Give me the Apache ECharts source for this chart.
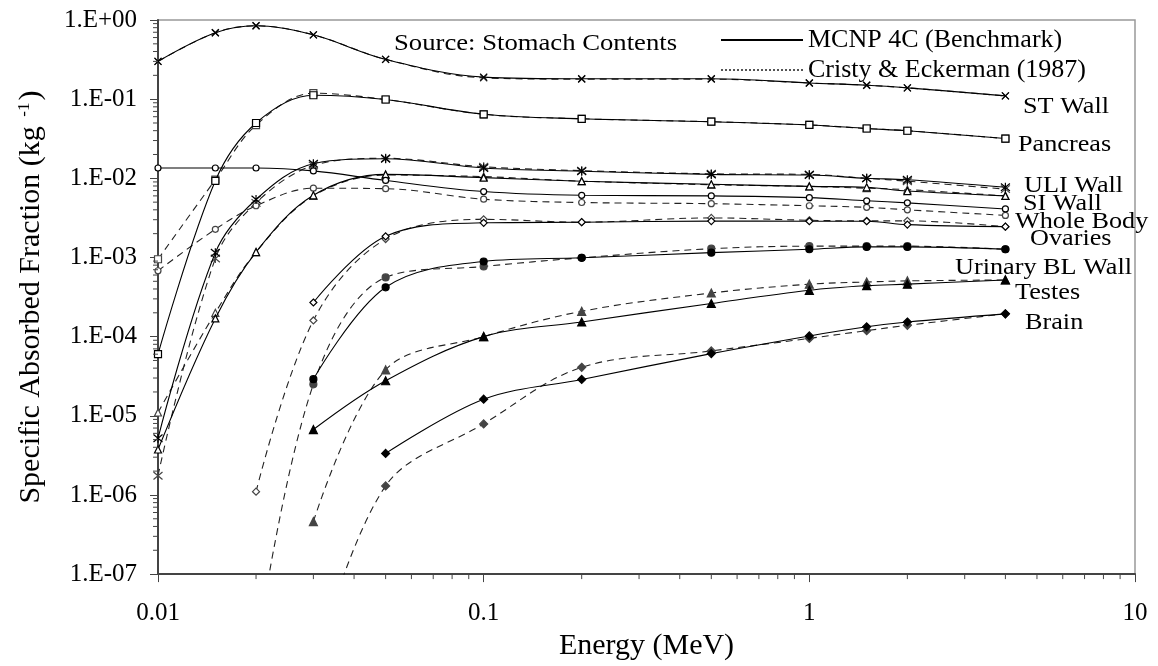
<!DOCTYPE html>
<html>
<head>
<meta charset="utf-8">
<script src="https://cdn.jsdelivr.net/npm/echarts@6/dist/echarts.min.js"></script>
<style>
html, body { margin: 0; padding: 0; background: #fff; }
#main { width: 1158px; height: 666px; }
</style>
</head>
<body>
<div id="main"></div>
<script>
// photon energies (MeV)
var energies = [0.01, 0.015, 0.02, 0.03, 0.05, 0.1, 0.2, 0.5, 1, 1.5, 2, 4];

// specific absorbed fractions (kg-1), source: stomach contents
var stWallMcnp     = [0.30, 0.69, 0.845, 0.65, 0.318, 0.19, 0.181, 0.181, 0.16, 0.15, 0.139, 0.110];
var stWallCristy   = [0.30, 0.69, 0.845, 0.65, 0.318, 0.186, 0.179, 0.179, 0.16, 0.15, 0.139, 0.110];
var pancreasMcnp   = [6.0e-5, 9.3e-3, 0.050, 0.112, 0.099, 0.0644, 0.0565, 0.0519, 0.0472, 0.0426, 0.0399, 0.0318];
var pancreasCristy = [9.5e-4, 9.6e-3, 0.047, 0.119, 0.099, 0.0644, 0.0565, 0.0519, 0.0472, 0.0426, 0.0399, 0.0318];
var uliMcnp        = [5.2e-6, 1.15e-3, 5.4e-3, 1.53e-2, 1.77e-2, 1.35e-2, 1.23e-2, 1.12e-2, 1.1e-2, 1.0e-2, 9.6e-3, 7.7e-3];
var uliCristy      = [1.75e-6, 9.7e-4, 4.9e-3, 1.45e-2, 1.79e-2, 1.4e-2, 1.25e-2, 1.14e-2, 1.12e-2, 1.0e-2, 9.2e-3, 7.3e-3];
var siMcnp         = [3.75e-6, 1.7e-4, 1.17e-3, 6.1e-3, 1.12e-2, 1.02e-2, 9.2e-3, 8.4e-3, 7.9e-3, 7.7e-3, 6.9e-3, 6.0e-3];
var siCristy       = [1.1e-5, 2.0e-4, 1.17e-3, 6.0e-3, 1.1e-2, 1.05e-2, 9.2e-3, 8.3e-3, 7.9e-3, 7.5e-3, 7.2e-3, 6.0e-3];
var wbMcnp         = [1.35e-2, 1.35e-2, 1.35e-2, 1.24e-2, 9.4e-3, 6.8e-3, 6.1e-3, 6.0e-3, 5.7e-3, 5.2e-3, 4.9e-3, 4.1e-3];
var wbCristy       = [6.8e-4, 2.27e-3, 4.5e-3, 7.5e-3, 7.4e-3, 5.45e-3, 4.95e-3, 4.78e-3, 4.5e-3, 4.3e-3, 4.0e-3, 3.4e-3];
var ovariesMcnp    = [null, null, null, 2.7e-4, 1.85e-3, 2.74e-3, 2.79e-3, 2.88e-3, 2.87e-3, 2.87e-3, 2.6e-3, 2.45e-3];
var ovariesCristy  = [null, null, 1.1e-6, 1.6e-4, 1.71e-3, 3.03e-3, 2.79e-3, 3.16e-3, 2.95e-3, 2.9e-3, 2.9e-3, 2.45e-3];
var urinaryMcnp    = [null, null, null, 2.9e-5, 4.2e-4, 8.9e-4, 9.9e-4, 1.15e-3, 1.27e-3, 1.36e-3, 1.36e-3, 1.27e-3];
var urinaryCristy  = [null, null, 1.0e-8, 2.5e-5, 5.6e-4, 7.7e-4, 9.9e-4, 1.29e-3, 1.39e-3, 1.39e-3, 1.39e-3, 1.27e-3];
var testesMcnp     = [null, null, null, 6.7e-6, 2.77e-5, 1.0e-4, 1.53e-4, 2.62e-4, 3.85e-4, 4.4e-4, 4.6e-4, 5.2e-4];
var testesCristy   = [null, null, null, 4.6e-7, 3.8e-5, 1.0e-4, 2.09e-4, 3.56e-4, 4.6e-4, 4.9e-4, 5.06e-4, 5.2e-4];
var brainMcnp      = [null, null, null, null, 3.35e-6, 1.62e-5, 2.88e-5, 6.1e-5, 1.02e-4, 1.33e-4, 1.53e-4, 1.94e-4];
var brainCristy    = [null, null, null, 6e-9, 1.3e-6, 7.9e-6, 4.1e-5, 6.6e-5, 9.5e-5, 1.19e-4, 1.39e-4, 1.94e-4];

var organNames = ['ST Wall', 'Pancreas', 'ULI Wall', 'SI Wall', 'Whole Body', 'Ovaries',
    'Urinary BL Wall', 'Testes', 'Brain'];
var mcnpName = 'MCNP 4C (Benchmark)';
var cristyName = 'Cristy & Eckerman (1987)';
var sourceText = 'Source: Stomach Contents';

// log axis decades, used for the minor ticks
var xDecades = [0.01, 0.1, 1];
var yDecades = [1e-7, 1e-6, 1e-5, 1e-4, 1e-3, 1e-2, 1e-1];

var FONT = '"Liberation Serif", "Times New Roman", serif';
var crossPath = 'path://M0,0L10,10M10,0L0,10';
var starPath = 'path://M0,0L10,10M10,0L0,10M5,-1L5,11';

// marker per organ: [symbol, filled, size]
var markers = [
    [crossPath, false, 7],
    ['rect', false, 7],
    [starPath, false, 9],
    ['triangle', false, 7],
    ['circle', false, 6],
    ['diamond', false, 7],
    ['circle', true, 7],
    ['triangle', true, 8],
    ['diamond', true, 8]
];
// label position per organ [x, y]
var labelPos = [
    [1023, 107], [1018, 145], [1024, 186], [1023, 204], [1015, 222],
    [1030, 239], [955, 268], [1015, 293], [1025, 323]
];

var organData = [
    [stWallMcnp, stWallCristy], [pancreasMcnp, pancreasCristy], [uliMcnp, uliCristy],
    [siMcnp, siCristy], [wbMcnp, wbCristy], [ovariesMcnp, ovariesCristy],
    [urinaryMcnp, urinaryCristy], [testesMcnp, testesCristy], [brainMcnp, brainCristy]
];

function pairs(values) {
    var out = [];
    for (let i = 0; i < values.length; i++) {
        if (values[i] != null) {
            out.push([energies[i], values[i]]);
        }
    }
    return out;
}

var series = [];
for (let k = 0; k < organNames.length; k++) {
    let m = markers[k];
    // MCNP, solid
    series.push({
        type: 'line', name: organNames[k] + ' MCNP', data: pairs(organData[k][0]),
        smooth: 0.35, symbol: m[0], symbolSize: m[2], showSymbol: true, z: 3,
        lineStyle: { color: '#000', width: 1.1, type: 'solid' },
        itemStyle: { color: m[1] ? '#000' : '#fff', borderColor: '#000', borderWidth: 1.2 },
        emphasis: { disabled: true }
    });
    // Cristy & Eckerman, dashed
    series.push({
        type: 'line', name: organNames[k] + ' Cristy', data: pairs(organData[k][1]),
        smooth: 0.35, symbol: m[0], symbolSize: m[2], showSymbol: true, z: 2,
        lineStyle: { color: '#222', width: 1.1, type: [7, 5] },
        itemStyle: { color: m[1] ? '#444' : '#fff', borderColor: '#444', borderWidth: 1.2 },
        emphasis: { disabled: true }
    });
}

// legend-only series
series.push({
    type: 'line', name: mcnpName, data: [], symbol: 'none', color: '#000',
    lineStyle: { color: '#000', width: 1, type: 'solid' }
});
series.push({
    type: 'line', name: cristyName, data: [], symbol: 'none', color: '#555',
    lineStyle: { color: '#555', width: 1, type: 'dotted' }
});

// minor ticks of the log axes
var xMinor = [], yMinor = [];
xDecades.forEach(function (d) { for (let m = 2; m < 10; m++) xMinor.push([d * m, 1e-7]); });
yDecades.forEach(function (d) { for (let m = 2; m < 10; m++) yMinor.push([0.01, d * m]); });

series.push({
    type: 'custom', name: 'xminor', data: xMinor, silent: true, z: 5,
    encode: { x: 0, y: 1 },
    renderItem: function (params, api) {
        var p = api.coord([api.value(0), api.value(1)]);
        return { type: 'line', shape: { x1: p[0], y1: p[1], x2: p[0], y2: p[1] + 5 },
            style: { stroke: '#444', lineWidth: 1 } };
    }
});
series.push({
    type: 'custom', name: 'yminor', data: yMinor, silent: true, z: 5,
    encode: { x: 0, y: 1 },
    renderItem: function (params, api) {
        var p = api.coord([api.value(0), api.value(1)]);
        return { type: 'line', shape: { x1: p[0] - 5, y1: p[1], x2: p[0], y2: p[1] },
            style: { stroke: '#444', lineWidth: 1 } };
    }
});

var graphics = organNames.map(function (name, k) {
    return {
        type: 'text', x: labelPos[k][0], y: labelPos[k][1], scaleX: 1.14, z: 10,
        style: { text: name, fontSize: 23, fontFamily: FONT, fill: '#000', verticalAlign: 'middle', align: 'left' }
    };
});
graphics.push({
    type: 'text', x: 394, y: 44, scaleX: 1.16, z: 10,
    style: { text: sourceText, fontSize: 23, fontFamily: FONT, fill: '#000', verticalAlign: 'middle', align: 'left' }
});

var option = {
    animation: false,
    backgroundColor: '#fff',
    grid: { left: 158, right: 23, top: 20, bottom: 74, containLabel: false,
        show: true, borderColor: '#999', borderWidth: 1.5 },
    legend: {
        data: [mcnpName, cristyName], selectedMode: false, orient: 'vertical',
        left: 715, top: 22, itemWidth: 82, itemHeight: 14, itemGap: 4,
        itemStyle: { opacity: 0 },
        textStyle: { fontSize: 26, fontFamily: FONT, color: '#000' }
    },
    xAxis: {
        type: 'log', logBase: 10, min: 0.01, max: 10, splitNumber: 3,
        name: 'Energy (MeV)', nameLocation: 'middle', nameGap: 41,
        nameTextStyle: { fontSize: 30, fontFamily: FONT, color: '#000' },
        axisLine: { show: true, lineStyle: { color: '#444', width: 2 } },
        axisTick: { show: true, inside: false, length: 8, lineStyle: { color: '#444', width: 1 } },
        axisLabel: { margin: 27, fontSize: 25, fontFamily: FONT, color: '#000',
            formatter: function (v) { return String(parseFloat(v.toPrecision(3))); } },
        splitLine: { show: false }
    },
    yAxis: {
        type: 'log', logBase: 10, min: 1e-7, max: 1, splitNumber: 7,
        name: '{t|Specific Absorbed Fraction (kg }{s|-1}{t|)}',
        nameLocation: 'middle', nameGap: 112, nameRotate: 90,
        nameTextStyle: { color: '#000', rich: {
            t: { fontSize: 30, fontFamily: FONT, color: '#000' },
            s: { fontSize: 17, fontFamily: FONT, color: '#000', verticalAlign: 'top', padding: [0, 2, 0, 2] }
        } },
        axisLine: { show: true, lineStyle: { color: '#444', width: 2 } },
        axisTick: { show: true, inside: false, length: 8, lineStyle: { color: '#444', width: 1 } },
        axisLabel: { margin: 21, fontSize: 25, fontFamily: FONT, color: '#000',
            formatter: function (v) {
                var e = Math.round(Math.log10(v));
                var s = Math.abs(e);
                return '1.E' + (e < 0 ? '-' : '+') + (s < 10 ? '0' : '') + s;
            } },
        splitLine: { show: false }
    },
    graphic: graphics,
    series: series
};

var myChart = echarts.init(document.getElementById('main'));
myChart.setOption(option);
</script>
</body>
</html>
